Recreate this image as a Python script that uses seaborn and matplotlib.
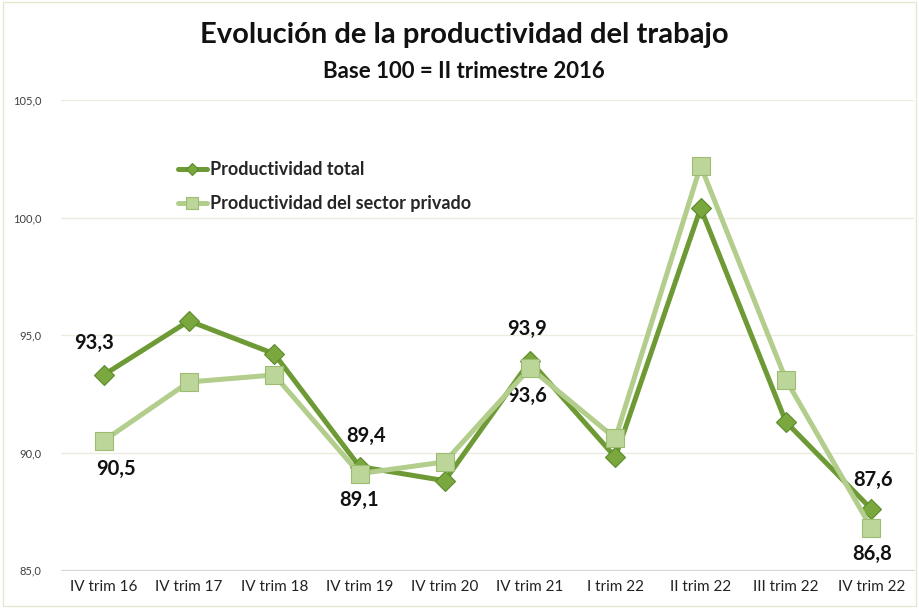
import matplotlib
matplotlib.use("Agg")
import matplotlib.pyplot as plt
import matplotlib.patches as patches
from matplotlib.ticker import FuncFormatter, FixedLocator
import seaborn as sns
import pandas as pd

# data
trimestres = ['IV trim 16', 'IV trim 17', 'IV trim 18', 'IV trim 19', 'IV trim 20',
              'IV trim 21', 'I trim 22', 'II trim 22', 'III trim 22', 'IV trim 22']
prod_total = [93.3, 95.6, 94.2, 89.4, 88.8, 93.9, 89.8, 100.4, 91.3, 87.6]
prod_privado = [90.5, 93.0, 93.3, 89.1, 89.6, 93.6, 90.6, 102.2, 93.1, 86.8]

df = pd.DataFrame({'trimestre': trimestres, 'total': prod_total, 'privado': prod_privado})

sns.set_style('white')
plt.rcParams['font.family'] = ['Lato', 'DejaVu Sans']

dark = '#6e9a36'
dark_mk = '#7aa83e'
light = '#b3ce8c'
light_mk = '#bcd69a'

fig = plt.figure(figsize=(9.19, 6.08), dpi=100)
ax = fig.add_axes([0.0664, 0.0625, 0.928, 0.773])

sns.lineplot(data=df, x='trimestre', y='total', sort=False, ax=ax, color=dark, lw=3.6,
             marker='D', markersize=10, markerfacecolor=dark_mk, markeredgecolor='#5a8a2a',
             markeredgewidth=0.8, label='Productividad total', zorder=3)
sns.lineplot(data=df, x='trimestre', y='privado', sort=False, ax=ax, color=light, lw=3.6,
             marker='s', markersize=13, markerfacecolor=light_mk, markeredgecolor='#9cbc72',
             markeredgewidth=0.8, label='Productividad del sector privado', zorder=4)

ax.set_ylim(85, 105)
ax.set_xlim(-0.5, len(trimestres) - 0.5)
ax.set_yticks([85, 90, 95, 100, 105])
ax.yaxis.set_major_formatter(FuncFormatter(lambda v, p: f'{v:.1f}'.replace('.', ',')))
ax.grid(axis='y', color='#ebebe0', lw=1)
ax.set_xlabel('')
ax.set_ylabel('')
for s in ['top', 'right', 'left']:
    ax.spines[s].set_visible(False)
ax.spines['bottom'].set_color('#d9d9d9')
ax.tick_params(axis='y', labelsize=8, colors='#404040', length=0, pad=14)
ax.tick_params(axis='x', labelsize=11, colors='#222222', length=0, pad=7)
ax.xaxis.set_minor_locator(FixedLocator([i - 0.5 for i in range(len(trimestres) + 1)]))
ax.tick_params(axis='x', which='minor', length=5, color='#d9d9d9')

leg = ax.legend(loc='upper left', bbox_to_anchor=(0.118, 0.905), frameon=False,
                handlelength=1.6, handletextpad=0.15, labelspacing=0.95, markerscale=0.65,
                prop={'weight': 'bold', 'size': 13})

# data labels
lab = dict(fontsize=14.5, fontweight='bold', color='#111111', ha='center', va='center',
           textcoords='offset points')
ax.annotate('93,3', (0, prod_total[0]), xytext=(-7, 23), **lab)
ax.annotate('90,5', (0, prod_privado[0]), xytext=(9, -20), **lab)
ax.annotate('89,4', (3, prod_total[3]), xytext=(5, 22), **lab)
ax.annotate('89,1', (3, prod_privado[3]), xytext=(0, -19), **lab)
ax.annotate('93,9', (5, prod_total[5]), xytext=(-2, 23), **lab)
ax.annotate('93,6', (5, prod_privado[5]), xytext=(-2, -20), **lab)
ax.annotate('87,6', (9, prod_total[9]), xytext=(1, 21), **lab)
ax.annotate('86,8', (9, prod_privado[9]), xytext=(1, -19), **lab)

fig.text(0.505, 0.943, 'Evolución de la productividad del trabajo', ha='center', va='center',
         fontsize=21, fontweight='bold', color='#111111')
fig.text(0.505, 0.882, 'Base 100 = II trimestre 2016', ha='center', va='center',
         fontsize=16, fontweight='bold', color='#111111')

fig.patches.append(patches.Rectangle((0.003, 0.003), 0.994, 0.994, transform=fig.transFigure,
                                     fill=False, edgecolor='#e6e6d2', lw=1))

fig.savefig('out.png', dpi=100)
